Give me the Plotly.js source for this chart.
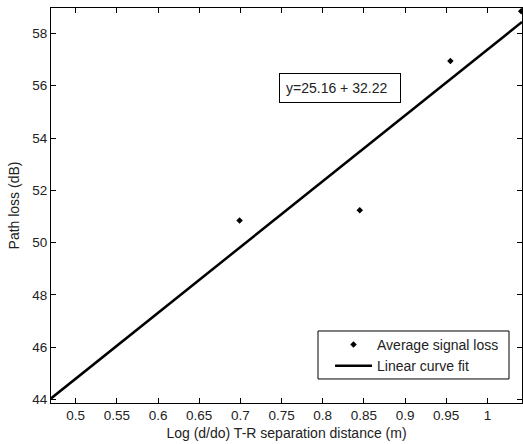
<!DOCTYPE html>
<html>
<head>
<meta charset="utf-8">
<script src="https://cdn.plot.ly/plotly-3.0.1.min.js"></script>
<style>html,body{margin:0;padding:0;background:#fff;}#chart{width:523px;height:444px;}</style>
</head>
<body>
<div id="chart"></div>
<script>
// Measured data: log distance vs average path loss
const logDist = [0.699, 0.845, 0.955, 1.041];
const pathLoss = [50.85, 51.24, 56.94, 58.85];
// Linear fit coefficients (from the chart's equation)
const fitSlope = 25.16;
const fitIntercept = 32.22;
const fitX = [0.47, 1.042];
const fitY = fitX.map(x => fitSlope * x + fitIntercept);
const xTickVals = [0.5, 0.55, 0.6, 0.65, 0.7, 0.75, 0.8, 0.85, 0.9, 0.95, 1];
const xTickText = ['0.5', '0.55', '0.6', '0.65', '0.7', '0.75', '0.8', '0.85', '0.9', '0.95', '1'];
const yTickVals = [44, 46, 48, 50, 52, 54, 56, 58];

const fam = 'Liberation Sans, Arial, sans-serif';
const tickFont = {family: fam, size: 13.5, color: '#222'};
const textFont = {family: fam, size: 14, color: '#222'};

const traces = [
  {x: logDist, y: pathLoss, mode: 'markers', name: 'Average signal loss',
   marker: {symbol: 'diamond', size: 5, color: '#000'}},
  {x: fitX, y: fitY, mode: 'lines', name: 'Linear curve fit',
   line: {color: '#000', width: 2.5}}
];

const axisCommon = {
  showline: true, linecolor: '#000', linewidth: 1, mirror: 'ticks',
  ticks: 'inside', ticklen: 5, tickcolor: '#000', tickwidth: 1,
  showgrid: false, zeroline: false, tickfont: tickFont, automargin: false
};

const layout = {
  width: 523, height: 444,
  margin: {l: 51, r: 1, t: 8, b: 41},
  paper_bgcolor: '#fff', plot_bgcolor: '#fff',
  font: textFont,
  xaxis: Object.assign({}, axisCommon, {
    range: [0.47, 1.042], tickvals: xTickVals, ticktext: xTickText,
    title: {text: 'Log (d/do) T-R separation distance (m)', font: textFont, standoff: 5}
  }),
  yaxis: Object.assign({}, axisCommon, {
    range: [43.87, 58.97], tickvals: yTickVals,
    title: {text: 'Path loss (dB)', font: textFont, standoff: 9}
  }),
  showlegend: true,
  legend: {
    x: 0.5924, y: 0.1873, xanchor: 'left', yanchor: 'top',
    bgcolor: 'rgba(0,0,0,0)', borderwidth: 0, itemwidth: 37,
    font: textFont, tracegroupgap: 0
  },
  shapes: [{
    type: 'rect', xref: 'paper', yref: 'paper',
    x0: 0.5669, x1: 0.9724, y0: 0.0608, y1: 0.1823,
    line: {color: '#000', width: 1}, fillcolor: '#fff', layer: 'above'
  }],
  annotations: [{
    x: 0.8214, y: 55.9, xref: 'x', yref: 'y',
    text: 'y=25.16 + 32.22', showarrow: false,
    font: textFont, bordercolor: '#000', borderwidth: 1, borderpad: 6,
    bgcolor: '#fff', width: 108, align: 'left'
  }]
};

Plotly.newPlot('chart', traces, layout, {displayModeBar: false, staticPlot: true});
</script>
</body>
</html>
